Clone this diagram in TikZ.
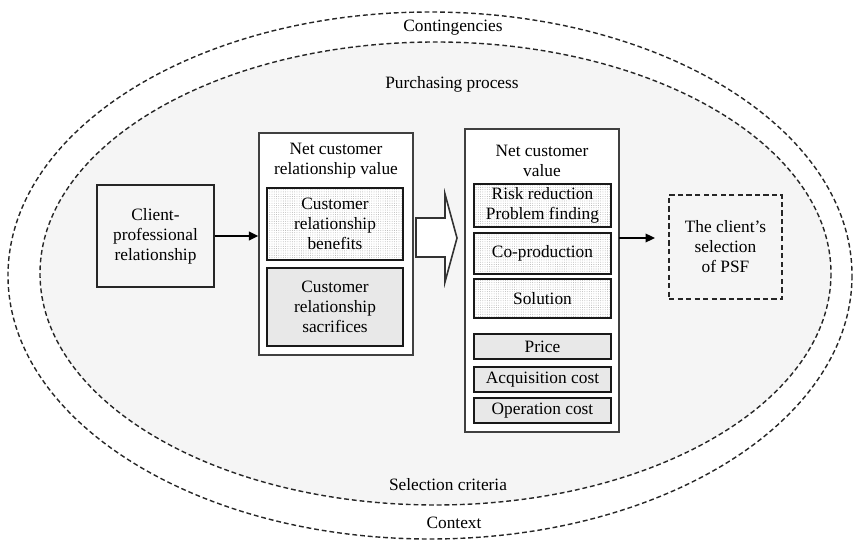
\documentclass[tikz,border=0pt]{standalone}
\usepackage{fontspec}
\setmainfont{Liberation Serif}
\usetikzlibrary{arrows.meta,fit,patterns.meta}

\definecolor{procfill}{HTML}{F5F5F5}
\definecolor{costfill}{HTML}{E8E8E8}

\tikzset{
  ring/.style={dash pattern=on 3.6pt off 2.2pt, line width=1.05pt, draw=black!85},
  frame/.style={draw=black!75, line width=1.1pt, fill=white, inner sep=0pt},
  pbox/.style={draw=black!90, line width=1.4pt, inner sep=0pt},
  benefit/.style={pbox, preaction={fill=white},
    pattern={Dots[distance=1.7pt,radius=0.32pt]}, pattern color=black!35},
  cost/.style={pbox, fill=costfill},
  plainbox/.style={draw=black!85, line width=1.1pt, fill=procfill, inner sep=0pt},
  outcome/.style={draw=black!85, line width=1.1pt, dash pattern=on 4pt off 2.4pt,
    fill=procfill, inner sep=0pt},
  txt/.style={align=center, inner sep=0pt},
  says/.style={label={[txt]center:{#1}}},
  link/.style={line width=1.1pt, -{Triangle[length=7pt,width=6.5pt]}},
  bigarrow/.style={draw=black!80, line width=1.2pt, fill=white, line join=miter},
}

\begin{document}
\begin{tikzpicture}[x=0.75pt,y=-0.75pt, font=\fontsize{13}{15}\selectfont]
  \useasboundingbox (0,0) rectangle (853,541);
  \fill[white] (0,0) rectangle (853,541);

  % environment rings
  \draw[ring] (430,275.5) ellipse [x radius=422, y radius=263.5];
  \draw[ring, fill=procfill] (435.5,273.5) ellipse [x radius=395.5, y radius=231.5];

  \node[txt] (contingencies) at (453,28) {Contingencies};
  \node[txt] (purchasing) at (452,84) {Purchasing process};
  \node[txt] (criteria) at (448,485) {Selection criteria};
  \node[txt] (context) at (454,523) {Context};

  % antecedent
  \node[plainbox, fit={(97,185)(214,287)},
        says={Client-\\professional\\relationship}] (client) {};

  % net customer relationship value
  \node[frame, fit={(259,133)(413,355)}] (ncrv) {};
  \node[txt] (ncrvtitle) at (336,161) {Net customer\\relationship value};
  \node[benefit, fit={(267,188)(403,260)},
        says={Customer\\relationship\\benefits}] (benefits) {};
  \node[cost, fit={(267,268)(403,346)},
        says={Customer\\relationship\\sacrifices}] (sacrifices) {};

  % net customer value
  \node[frame, fit={(465,129)(619,432)}] (ncv) {};
  \node[txt] (ncvtitle) at (542,161) {Net customer\\value};
  \node[benefit, fit={(474,184)(611,227)},
        says={Risk reduction\\Problem finding}] (risk) {};
  \node[benefit, fit={(474,233)(611,274)}, says={Co-production}] (coprod) {};
  \node[benefit, fit={(474,279)(611,318)}, says={Solution}] (solution) {};
  \node[cost, fit={(474,334)(611,359)}, says={Price}] (price) {};
  \node[cost, fit={(474,367)(611,392)}, says={Acquisition cost}] (acq) {};
  \node[cost, fit={(474,398)(611,423)}, says={Operation cost}] (oper) {};

  % outcome
  \node[outcome, fit={(669,195)(782,299)},
        says={The client’s\\selection\\of PSF}] (selection) {};

  % connectors
  \draw[link] (client.east) -- (client.east -| ncrv.west);
  \draw[bigarrow] (416,218) -- (445,218) -- (445,194) -- (457,238)
    -- (445,282) -- (445,257) -- (416,257) -- cycle;
  \coordinate (ncvout) at (619,238);
  \draw[link, shorten >=10pt] (ncvout) -- (ncvout -| selection.west);
\end{tikzpicture}
\end{document}
